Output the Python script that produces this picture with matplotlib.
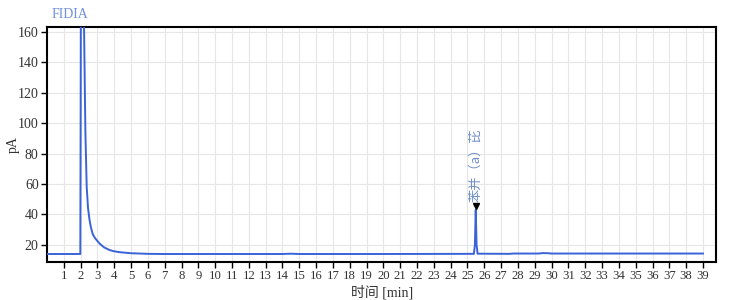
import matplotlib
matplotlib.use("Agg")
import matplotlib.pyplot as plt

# --- data ---
time_min = [0.0, 1.98, 2.00, 2.05, 2.15, 2.20, 2.28, 2.36, 2.44, 2.52, 2.60, 2.72,
            2.85, 3.00, 3.16, 3.40, 3.70, 3.93, 4.30, 4.70, 5.00, 5.50, 6.00, 7.00,
            10.0, 14.0, 14.5, 15.0, 20.0, 25.38, 25.44, 25.49, 25.54, 25.60,
            27.5, 27.7, 29.2, 29.5, 29.8, 30.0, 35.0, 39.0]
signal_pA = [14.0, 14.0, 105.0, 400.0, 400.0, 165.0, 95.0, 58.0, 44.0, 37.0, 32.0, 27.0,
             24.5, 22.5, 20.5, 18.3, 16.7, 15.9, 15.2, 14.8, 14.5, 14.3, 14.1, 14.0,
             14.0, 14.0, 14.2, 14.0, 14.0, 14.1, 20.0, 43.0, 20.0, 14.2,
             14.1, 14.3, 14.3, 14.6, 14.5, 14.3, 14.3, 14.3]
peak_time = 25.49
peak_marker_y = 45.5
peak_name = "苯并（a）芘"
x_ticks = list(range(1, 40))
y_ticks = [20, 40, 60, 80, 100, 120, 140, 160]

serif = ["Liberation Serif", "Noto Sans CJK SC"]
cjk = ["Noto Sans CJK SC", "DejaVu Sans"]

fig = plt.figure(figsize=(7.3, 3.0), dpi=100)
ax = fig.add_axes([0.0644, 0.127, 0.917, 0.783])

ax.plot(time_min, signal_pA, color="#3a63d8", lw=1.4, zorder=3)
ax.plot([peak_time], [peak_marker_y], marker="v", color="black", ms=5, zorder=4)
ax.text(peak_time, peak_marker_y + 3.0, peak_name, rotation=90, ha="center", va="bottom",
        fontsize=9.5, color="#6f8fc8", family=cjk)

ax.set_xlim(0, 39.8)
ax.set_ylim(8.8, 163.3)
ax.set_xticks(x_ticks)
ax.set_yticks(y_ticks)
ax.grid(True, color="#e6e6e6", lw=0.8, zorder=0)
ax.set_axisbelow(True)
for s in ax.spines.values():
    s.set_color("black")
    s.set_linewidth(1.5)
ax.tick_params(direction="out", length=4, width=1, color="black", pad=2)
for lab in ax.get_xticklabels():
    lab.set_family(serif)
    lab.set_fontsize(9.2)
    lab.set_color("#333333")
for lab in ax.get_yticklabels():
    lab.set_family(serif)
    lab.set_fontsize(10)
    lab.set_color("#333333")

ax.set_xlabel("时间 [min]", family=serif, fontsize=10, color="#333333", labelpad=2)
ax.set_ylabel("pA", family=serif, fontsize=10, color="#333333")
ax.yaxis.set_label_coords(-0.041, 0.5)
fig.text(0.071, 0.953, "FIDIA", family=serif, fontsize=10, color="#6f8fdc",
         ha="left", va="center")

fig.savefig("out.png", dpi=100)
